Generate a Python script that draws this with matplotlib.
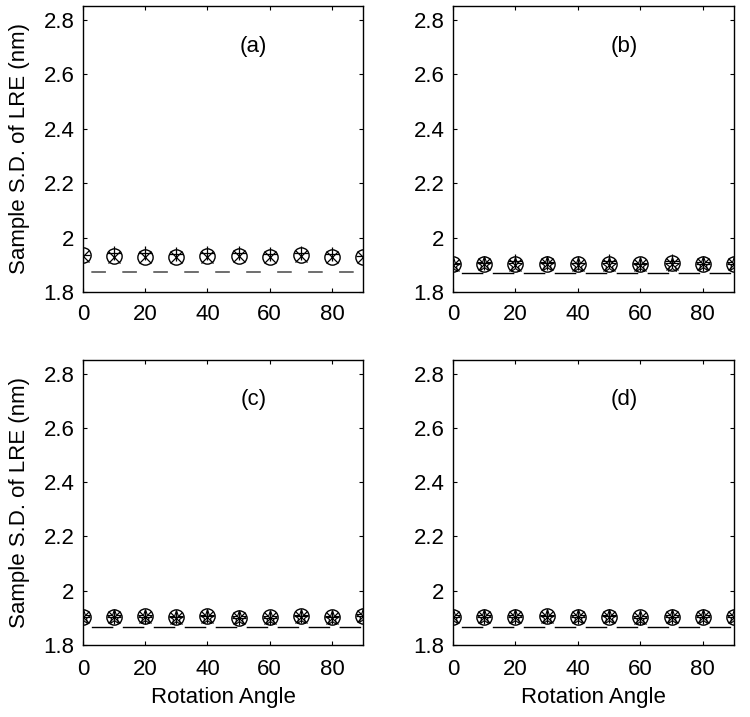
import numpy as np
import matplotlib
matplotlib.use('Agg')
from matplotlib import pyplot as plt

plt.rcParams['font.family'] = ['Liberation Sans', 'DejaVu Sans']
plt.rcParams['lines.scale_dashes'] = False

angles = [0, 10, 20, 30, 40, 50, 60, 70, 80, 90]

# values per panel: circle, x, plus, star markers and the lower bound
a_circle = [1.935, 1.932, 1.930, 1.930, 1.933, 1.934, 1.930, 1.935, 1.930, 1.930]
a_x = [1.932, 1.930, 1.928, 1.928, 1.930, 1.932, 1.928, 1.932, 1.928, 1.928]
a_plus = [1.935, 1.945, 1.942, 1.940, 1.945, 1.942, 1.938, 1.943, 1.940, 1.932]
a_bound = 1.872

b_circle = [1.902, 1.903, 1.903, 1.903, 1.902, 1.903, 1.902, 1.905, 1.903, 1.903]
b_x = [1.900, 1.902, 1.900, 1.902, 1.900, 1.900, 1.900, 1.902, 1.902, 1.902]
b_plus = [1.902, 1.905, 1.912, 1.905, 1.908, 1.912, 1.903, 1.915, 1.903, 1.903]
b_star = [1.900, 1.902, 1.900, 1.902, 1.900, 1.900, 1.898, 1.900, 1.902, 1.902]
b_bound = 1.868

c_circle = [1.903, 1.903, 1.905, 1.902, 1.905, 1.900, 1.902, 1.905, 1.902, 1.908]
c_x = [1.902, 1.902, 1.903, 1.900, 1.903, 1.898, 1.900, 1.903, 1.900, 1.905]
c_plus = [1.903, 1.903, 1.903, 1.902, 1.905, 1.900, 1.900, 1.905, 1.902, 1.908]
c_star = [1.902, 1.902, 1.903, 1.900, 1.903, 1.898, 1.900, 1.903, 1.900, 1.905]
c_bound = 1.868

d_circle = [1.903, 1.903, 1.903, 1.905, 1.903, 1.903, 1.902, 1.903, 1.903, 1.903]
d_x = [1.902, 1.902, 1.902, 1.903, 1.902, 1.902, 1.900, 1.902, 1.902, 1.902]
d_plus = [1.903, 1.903, 1.903, 1.905, 1.903, 1.905, 1.900, 1.903, 1.903, 1.903]
d_star = [1.902, 1.902, 1.902, 1.903, 1.902, 1.902, 1.900, 1.902, 1.902, 1.902]
d_bound = 1.868

panels = [
    ('(a)', a_circle, a_x, a_plus, None, a_bound),
    ('(b)', b_circle, b_x, b_plus, b_star, b_bound),
    ('(c)', c_circle, c_x, c_plus, c_star, c_bound),
    ('(d)', d_circle, d_x, d_plus, d_star, d_bound),
]

fig = plt.figure(figsize=(7.5, 7.17), dpi=100)
W, H = 750.0, 717.0
boxes = [(83, 6, 363, 292), (453, 6, 734, 292), (83, 360, 363, 645), (453, 360, 734, 645)]
fs = 16

for i, (label, circ, xs, plus, star, bound) in enumerate(panels):
    x0, y0, x1, y1 = boxes[i]
    ax = fig.add_axes([x0 / W, 1 - y1 / H, (x1 - x0) / W, (y1 - y0) / H])

    if i == 0:
        ax.plot([0, 90], [bound, bound], color='#555555', lw=1.2,
                linestyle=(-6.0, (10.5, 11.8)))
    else:
        ax.plot([0, 90], [bound, bound], color='black', lw=1.0,
                linestyle=(-6.0, (15.5, 6.8)))

    ax.plot(angles, circ, 'o', mfc='none', mec='black', ms=11, mew=1.0)
    ax.plot(angles, xs, 'x', color='black', ms=8, mew=0.9)
    ax.plot(angles, plus, '+', color='black', ms=10, mew=0.9)
    if star is not None:
        ax.plot(angles, star, '*', mfc='none', mec='black', ms=11, mew=0.8)

    ax.set_xlim(0, 90)
    ax.set_ylim(1.8, 2.85)
    ax.set_xticks([0, 20, 40, 60, 80])
    ax.set_yticks([1.8, 2.0, 2.2, 2.4, 2.6, 2.8])
    ax.set_yticklabels(['1.8', '2', '2.2', '2.4', '2.6', '2.8'])
    ax.tick_params(direction='in', top=True, right=True, length=3, width=0.8,
                   labelsize=fs)
    ax.tick_params(axis='x', pad=9 if i < 2 else 10)
    ax.tick_params(axis='y', pad=6)
    for s in ax.spines.values():
        s.set_linewidth(1.0)

    ax.text(0.61, 0.86, label, transform=ax.transAxes, fontsize=fs,
            ha='center', va='center')

    if i % 2 == 0:
        ax.set_ylabel('Sample S.D. of LRE (nm)', fontsize=fs, labelpad=10)
    if i >= 2:
        ax.set_xlabel('Rotation Angle', fontsize=fs, labelpad=5)

fig.savefig('out.png', dpi=100)
